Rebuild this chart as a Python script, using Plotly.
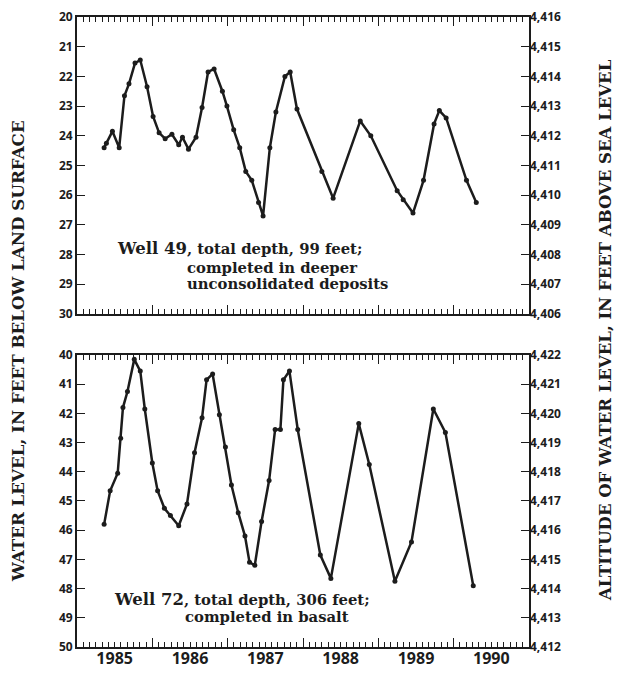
import plotly.graph_objects as go

# Well 49 (decimal year, depth to water in feet below land surface)
w49_year = [1985.36, 1985.39, 1985.47, 1985.56, 1985.63, 1985.69, 1985.77, 1985.84,
            1985.93, 1986.01, 1986.09, 1986.17, 1986.26, 1986.35, 1986.40, 1986.48,
            1986.58, 1986.66, 1986.74, 1986.82, 1986.93, 1986.99, 1987.08, 1987.16,
            1987.24, 1987.32, 1987.41, 1987.47, 1987.56, 1987.64, 1987.76, 1987.83,
            1987.92, 1988.25, 1988.40, 1988.76, 1988.90, 1989.25, 1989.33, 1989.46,
            1989.60, 1989.74, 1989.81, 1989.90, 1990.17, 1990.30]
w49_depth = [24.4, 24.25, 23.85, 24.4, 22.65, 22.25, 21.55, 21.45,
             22.35, 23.35, 23.9, 24.1, 23.95, 24.3, 24.05, 24.45,
             24.05, 23.05, 21.85, 21.75, 22.5, 23.0, 23.8, 24.4,
             25.2, 25.5, 26.25, 26.7, 24.4, 23.2, 22.0, 21.85,
             23.1, 25.2, 26.1, 23.5, 24.0, 25.85, 26.15, 26.6,
             25.5, 23.6, 23.15, 23.4, 25.5, 26.25]

# Well 72
w72_year = [1985.36, 1985.44, 1985.54, 1985.58, 1985.61, 1985.67, 1985.76, 1985.84,
            1985.90, 1986.00, 1986.07, 1986.16, 1986.24, 1986.35, 1986.46, 1986.56,
            1986.66, 1986.72, 1986.80, 1986.89, 1986.97, 1987.05, 1987.14, 1987.23,
            1987.29, 1987.36, 1987.45, 1987.55, 1987.63, 1987.70, 1987.74, 1987.82,
            1987.93, 1988.23, 1988.37, 1988.74, 1988.88, 1989.22, 1989.44, 1989.73,
            1989.89, 1990.26]
w72_depth = [45.8, 44.65, 44.05, 42.85, 41.8, 41.25, 40.15, 40.55,
             41.85, 43.7, 44.65, 45.25, 45.5, 45.85, 45.1, 43.35,
             42.15, 40.85, 40.65, 42.05, 43.15, 44.45, 45.4, 46.2,
             47.1, 47.2, 45.7, 44.3, 42.55, 42.55, 40.85, 40.55,
             42.55, 46.85, 47.65, 42.35, 43.75, 47.75, 46.4, 41.85,
             42.65, 47.9]

year_ticks = [1985.5, 1986.5, 1987.5, 1988.5, 1989.5, 1990.5]
year_labels = ["1985", "1986", "1987", "1988", "1989", "1990"]
top_left_ticks = list(range(20, 31))
top_right_ticks = list(range(4406, 4417))
bot_left_ticks = list(range(40, 51))
bot_right_ticks = list(range(4412, 4423))

INK = "#1c1c1c"
SERIF = "DejaVu Serif"
SANS = "Open Sans"

fig = go.Figure()
line = dict(color=INK, width=2.5)
marker = dict(color=INK, size=5)
fig.add_trace(go.Scatter(x=w49_year, y=w49_depth, mode="lines+markers", line=line,
                         marker=marker, xaxis="x", yaxis="y", showlegend=False))
fig.add_trace(go.Scatter(x=w72_year, y=w72_depth, mode="lines+markers", line=line,
                         marker=marker, xaxis="x2", yaxis="y2", showlegend=False))
fig.add_trace(go.Scatter(x=[None], y=[None], xaxis="x", yaxis="y3", showlegend=False))
fig.add_trace(go.Scatter(x=[None], y=[None], xaxis="x3", yaxis="y4", showlegend=False))

xcommon = dict(range=[1985, 1991], tick0=1985, dtick=1, ticks="inside", ticklen=9,
               tickwidth=1.3, tickcolor=INK, showticklabels=False, showgrid=False,
               zeroline=False, showline=True, linecolor=INK, linewidth=1.8,
               mirror="ticks", automargin=False,
               minor=dict(dtick=1 / 12, tick0=1985, ticks="inside", ticklen=5,
                          tickwidth=1.1, tickcolor=INK, showgrid=False))
ycommon = dict(dtick=1, ticks="inside", ticklen=8, tickwidth=1.4, tickcolor=INK,
               showgrid=False, zeroline=False, showline=True, linecolor=INK,
               linewidth=1.8, mirror="ticks", automargin=False,
               tickfont=dict(family=SANS, size=12, color=INK, weight="bold"))
rcommon = dict(dtick=1, ticks="", showgrid=False, zeroline=False, showline=False,
               side="right", tickformat=",", separatethousands=True, automargin=False,
               tickfont=dict(family=SANS, size=12, color=INK, weight="bold"))

# the page body has an 8px margin, so the figure is 8px smaller and margins shifted
fig.update_layout(
    width=615, height=667,
    margin=dict(l=69, r=94, t=9, b=28, autoexpand=False),
    paper_bgcolor="white", plot_bgcolor="white",
    xaxis=dict(**xcommon, domain=[0, 1], anchor="y"),
    xaxis2=dict(**xcommon, domain=[0, 1], anchor="y2"),
    xaxis3=dict(range=[1985, 1991], overlaying="x2", anchor="y2", side="bottom",
                tickvals=year_ticks, ticktext=year_labels, ticks="", showgrid=False,
                zeroline=False, showline=False, automargin=False,
                tickfont=dict(family=SANS, size=16, color=INK, weight="bold")),
    yaxis=dict(**ycommon, range=[30, 20], domain=[0.5286, 1.0], anchor="x",
               tickvals=top_left_ticks),
    yaxis2=dict(**ycommon, range=[50, 40], domain=[0.0, 0.4635], anchor="x2",
                tickvals=bot_left_ticks),
    yaxis3=dict(**rcommon, range=[4406, 4416], overlaying="y", anchor="x",
                tickvals=top_right_ticks),
    yaxis4=dict(**rcommon, range=[4412, 4422], overlaying="y2", anchor="x2",
                tickvals=bot_right_ticks),
)

afont = dict(family=SERIF, size=14.8, color=INK, weight="bold")
anns = [
    dict(x=1985.505, y=27.78, xref="x", yref="y",
         text="<span style='font-size:16.5px'>Well 49</span>, total depth, 99 feet;"),
    dict(x=1986.43, y=28.42, xref="x", yref="y", text="completed in deeper"),
    dict(x=1986.43, y=28.96, xref="x", yref="y", text="unconsolidated deposits"),
    dict(x=1985.465, y=48.39, xref="x2", yref="y2",
         text="<span style='font-size:16.5px'>Well 72</span>, total depth, 306 feet;"),
    dict(x=1986.41, y=48.97, xref="x2", yref="y2", text="completed in basalt"),
]
for a in anns:
    fig.add_annotation(**a, xanchor="left", yanchor="middle", showarrow=False, font=afont)

fig.add_annotation(x=0, xref="paper", xshift=-59, y=0.47, yref="paper",
                   text="WATER LEVEL, IN FEET BELOW LAND SURFACE", textangle=-90,
                   showarrow=False, font=dict(family=SERIF, size=16.7, color=INK, weight="bold"),
                   xanchor="center", yanchor="middle")
fig.add_annotation(x=1, xref="paper", xshift=76, y=0.503, yref="paper",
                   text="ALTITUDE OF WATER LEVEL, IN FEET ABOVE SEA LEVEL", textangle=-90,
                   showarrow=False, font=dict(family=SERIF, size=16.5, color=INK, weight="bold"),
                   xanchor="center", yanchor="middle")

fig.write_html("out.html")
